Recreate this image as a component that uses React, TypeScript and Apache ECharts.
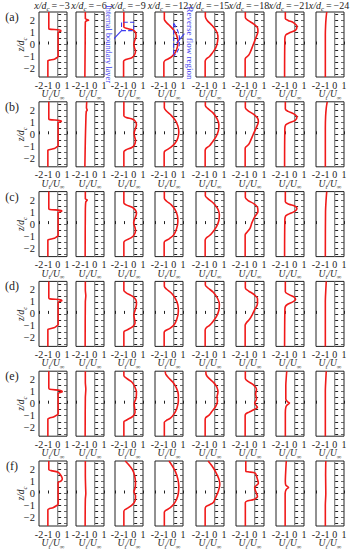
import React, { useEffect, useRef } from "react";
import * as echarts from "echarts";

// ---------- data ----------
const stations = [-3, -6, -9, -12, -15, -18, -21, -24];
const rowLabels = ["(a)", "(b)", "(c)", "(d)", "(e)", "(f)"];
const xLabelValues = [-2, -1, 0, 1];
const zLabelValues = [-2, -1, 0, 1, 2];
const zTickValues = [-2.5, -2, -1.5, -1, -0.5, 0, 0.5, 1, 1.5, 2, 2.5];

// profiles: [U_t/U_inf, z/d_c], from top to bottom
const a1 = [[-0.95,2.7],[-0.95,1.35],[-0.9,1.28],[0.2,1.2],[0.35,1.12],[0.15,1.05],[0.05,0.98],[0.05,-1.0],[-0.1,-1.1],[-0.35,-1.22],[-0.9,-1.3],[-1.05,-1.36],[-1.05,-2.7]];
const a2 = [[-1.0,2.7],[-1.0,2.15],[-0.85,2.08],[-0.65,2.02],[-0.9,1.95],[-1.0,1.85],[-1.02,0],[-1.05,-2.7]];
const a3 = [[-1.05,2.7],[-1.05,1.45],[-0.8,1.35],[-0.1,1.2],[0.2,1.0],[0.25,0.7],[0.1,0.3],[0.02,0.0],[0.1,-0.3],[0.2,-0.55],[0.1,-0.85],[-0.2,-1.1],[-0.85,-1.25],[-1.08,-1.4],[-1.08,-2.7]];
const a4 = [[-1.0,2.7],[-1.0,2.1],[-0.8,1.85],[-0.4,1.55],[0.0,1.2],[0.3,0.8],[0.45,0.3],[0.4,-0.2],[0.15,-0.7],[-0.2,-1.0],[-0.6,-1.2],[-0.95,-1.35],[-1.05,-1.5],[-1.05,-2.7]];
const a5 = [[-1,2.7],[-1,2.3],[-0.8,2.0],[-0.3,1.6],[0.15,1.15],[0.35,0.7],[0.3,0.2],[0.1,-0.3],[-0.25,-0.7],[-0.55,-1.0],[-0.9,-1.2],[-1.02,-1.4],[-1.02,-2.7]];
const a6 = [[-1,2.7],[-1,2.25],[-0.7,2.0],[-0.1,1.7],[0.3,1.4],[0.35,1.1],[0.1,0.5],[-0.2,-0.1],[-0.45,-0.6],[-0.65,-0.9],[-0.95,-1.1],[-1.02,-1.25],[-1.02,-2.7]];
const a7 = [[-1,2.7],[-1,2.15],[-0.7,2.0],[-0.1,1.8],[0.25,1.5],[0.1,1.2],[-0.6,0.95],[-0.95,0.8],[-1.05,0.5],[-1.08,-2.7]];
const a8 = [[-0.85,2.7],[-0.92,2.2],[-0.97,1.6],[-1.0,0.8],[-1.0,-2.7]];

const b1 = [[-0.95,2.7],[-0.95,1.3],[-0.85,1.22],[0.2,1.15],[0.4,1.08],[0.15,1.0],[0.05,0.95],[0.05,-0.95],[-0.1,-1.05],[-0.35,-1.18],[-0.9,-1.28],[-1.05,-1.33],[-1.05,-2.7]];
const b2 = [[-0.85,2.7],[-0.88,2.2],[-0.8,2.0],[-0.9,1.9],[-0.95,1.0],[-1.0,-0.5],[-1.05,-2.7]];
const b3 = [[-1.05,2.7],[-1.05,1.55],[-0.8,1.4],[-0.1,1.25],[0.2,1.05],[0.3,0.8],[0.15,0.4],[0.05,0.1],[0.1,-0.2],[0.2,-0.5],[0.1,-0.85],[-0.2,-1.1],[-0.85,-1.3],[-1.05,-1.45],[-1.05,-2.7]];
const b4 = [[-1,2.7],[-1,2.2],[-0.8,1.95],[-0.3,1.6],[0.15,1.2],[0.45,0.7],[0.55,0.2],[0.45,-0.3],[0.15,-0.75],[-0.25,-1.05],[-0.65,-1.25],[-0.95,-1.4],[-1.02,-1.55],[-1.02,-2.7]];
const b5 = [[-1,2.7],[-1,2.4],[-0.75,2.15],[-0.2,1.8],[0.25,1.3],[0.45,0.8],[0.4,0.3],[0.15,-0.2],[-0.25,-0.65],[-0.55,-0.95],[-0.9,-1.15],[-1.02,-1.35],[-1.02,-2.7]];
const b6 = [[-1,2.7],[-1,2.2],[-0.7,1.95],[-0.1,1.65],[0.3,1.35],[0.4,1.05],[0.2,0.6],[-0.15,0.0],[-0.45,-0.55],[-0.65,-0.85],[-0.95,-1.05],[-1.02,-1.2],[-1.02,-2.7]];
const b7 = [[-1,2.7],[-1,2.1],[-0.7,1.9],[-0.1,1.7],[0.25,1.45],[0.05,1.15],[-0.6,0.95],[-0.95,0.8],[-1.05,0.5],[-1.08,-2.7]];
const b8 = [[-0.8,2.7],[-0.9,2.2],[-0.97,1.5],[-1.0,0.5],[-1.0,-2.7]];

const c1 = [[-0.95,2.7],[-0.95,1.3],[-0.85,1.22],[0.25,1.15],[0.45,1.08],[0.15,1.0],[0.05,0.95],[0.05,-0.95],[-0.1,-1.05],[-0.35,-1.18],[-0.9,-1.28],[-1.05,-1.33],[-1.05,-2.7]];
const c2 = [[-1.0,2.7],[-1.0,2.1],[-0.8,2.0],[-0.95,1.85],[-1.0,1.0],[-1.02,-2.7]];
const c3 = [[-1.05,2.7],[-1.05,1.75],[-0.8,1.6],[-0.15,1.4],[0.2,1.15],[0.3,0.85],[0.1,0.4],[0.0,0.1],[0.15,-0.3],[0.2,-0.55],[0.05,-0.9],[-0.3,-1.15],[-0.85,-1.35],[-1.05,-1.5],[-1.05,-2.7]];
const c4 = [[-1,2.7],[-1,2.15],[-0.75,1.9],[-0.25,1.6],[0.15,1.2],[0.4,0.7],[0.45,0.2],[0.3,-0.4],[0.0,-0.9],[-0.45,-1.2],[-0.9,-1.4],[-1.02,-1.55],[-1.02,-2.7]];
const c5 = [[-1,2.7],[-1,2.35],[-0.7,2.1],[-0.15,1.75],[0.3,1.3],[0.5,0.8],[0.45,0.3],[0.2,-0.2],[-0.2,-0.65],[-0.55,-0.95],[-0.9,-1.15],[-1.02,-1.35],[-1.02,-2.7]];
const c6 = [[-1,2.7],[-1,2.2],[-0.7,1.95],[-0.1,1.7],[0.3,1.4],[0.35,1.05],[0.0,0.6],[-0.3,0.1],[-0.5,-0.35],[-0.85,-0.7],[-1.02,-0.9],[-1.02,-2.7]];
const c7 = [[-1,2.7],[-1,1.85],[-0.6,1.65],[0.0,1.5],[0.25,1.3],[0.0,1.05],[-0.6,0.85],[-0.95,0.7],[-1.05,0.4],[-1.08,-2.7]];
const c8 = [[-0.85,2.7],[-0.92,2.0],[-0.98,1.0],[-1.0,-2.7]];

const d1 = [[-0.95,2.7],[-0.95,1.35],[-0.85,1.25],[0.3,1.18],[0.45,1.1],[0.15,1.02],[0.05,0.95],[0.05,-0.9],[-0.1,-1.0],[-0.4,-1.15],[-0.9,-1.25],[-1.05,-1.3],[-1.05,-2.7]];
const d2 = [[-1.0,2.7],[-1.0,2.0],[-0.95,1.5],[-1.0,1.0],[-1.02,-2.7]];
const d3 = [[-1.05,2.7],[-1.05,1.95],[-0.8,1.75],[-0.1,1.45],[0.25,1.15],[0.3,0.8],[0.15,0.3],[0.02,-0.1],[0.1,-0.45],[0.15,-0.75],[-0.1,-1.05],[-0.75,-1.35],[-1.05,-1.5],[-1.05,-2.7]];
const d4 = [[-1,2.7],[-1,2.3],[-0.75,2.05],[-0.2,1.7],[0.2,1.25],[0.45,0.75],[0.5,0.2],[0.35,-0.4],[0.05,-0.9],[-0.4,-1.2],[-0.9,-1.4],[-1.02,-1.55],[-1.02,-2.7]];
const d5 = [[-1,2.7],[-1,2.4],[-0.7,2.15],[-0.15,1.8],[0.3,1.3],[0.5,0.8],[0.45,0.3],[0.2,-0.2],[-0.2,-0.65],[-0.55,-0.95],[-0.9,-1.15],[-1.02,-1.35],[-1.02,-2.7]];
const d6 = [[-1,2.7],[-1,2.15],[-0.65,1.9],[-0.05,1.6],[0.3,1.25],[0.3,0.85],[0.0,0.35],[-0.25,-0.05],[-0.55,-0.45],[-0.9,-0.75],[-1.02,-0.95],[-1.02,-2.7]];
const d7 = [[-1,2.7],[-1,1.85],[-0.6,1.6],[-0.05,1.4],[0.1,1.2],[-0.2,1.0],[-0.75,0.8],[-1.0,0.6],[-1.05,0.3],[-1.08,-2.7]];
const d8 = [[-0.9,2.7],[-0.95,2.0],[-1.0,1.0],[-1.0,-2.7]];

const e1 = [[-0.95,2.7],[-0.95,1.3],[-0.85,1.2],[0.3,1.1],[0.5,1.0],[0.25,0.92],[0.05,0.85],[0.05,-0.85],[-0.1,-0.95],[-0.45,-1.1],[-0.9,-1.2],[-1.05,-1.28],[-1.05,-2.7]];
const e2 = [[-1.0,2.7],[-1.0,1.8],[-0.95,1.2],[-1.0,0.5],[-1.02,-2.7]];
const e3 = [[-1.05,2.7],[-1.05,2.35],[-0.75,2.1],[-0.2,1.8],[0.1,1.45],[0.3,0.95],[0.25,0.45],[0.05,0.0],[0.1,-0.35],[0.15,-0.7],[-0.1,-1.05],[-0.75,-1.35],[-1.05,-1.5],[-1.05,-2.7]];
const e4 = [[-0.9,2.7],[-0.85,2.45],[-0.55,2.15],[-0.1,1.8],[0.3,1.3],[0.5,0.75],[0.5,0.2],[0.35,-0.35],[0.05,-0.85],[-0.35,-1.2],[-0.8,-1.4],[-1.0,-1.55],[-1.0,-2.7]];
const e5 = [[-0.95,2.7],[-0.9,2.4],[-0.6,2.1],[-0.1,1.75],[0.25,1.35],[0.35,0.95],[0.25,0.55],[0.3,0.2],[0.1,-0.25],[-0.3,-0.65],[-0.6,-0.95],[-0.95,-1.15],[-1.02,-1.35],[-1.02,-2.7]];
const e6 = [[-1,2.7],[-1,2.1],[-0.7,1.85],[-0.1,1.55],[0.2,1.2],[0.1,0.8],[0.2,0.4],[0.0,0.05],[0.3,-0.3],[-0.1,-0.5],[-0.6,-0.7],[-0.95,-0.85],[-1.02,-1.0],[-1.02,-2.7]];
const e7 = [[-0.85,2.7],[-0.9,2.2],[-0.95,1.5],[-0.95,0.4],[-0.75,0.15],[-0.55,0.05],[-0.8,-0.1],[-0.95,-0.3],[-1.0,-0.8],[-1.0,-2.7]];
const e8 = [[-0.9,2.7],[-0.95,2.0],[-1.0,1.0],[-1.0,-2.7]];

const f1 = [[-0.95,2.7],[-0.95,2.0],[-0.7,1.9],[0.0,1.78],[0.35,1.5],[0.5,1.2],[0.3,1.0],[0.05,0.92],[0.05,-0.9],[-0.1,-1.0],[-0.5,-1.18],[-0.95,-1.28],[-1.05,-1.35],[-1.05,-2.7]];
const f2 = [[-1.0,2.7],[-1.0,1.5],[-0.97,0.5],[-0.95,0.0],[-1.0,-0.5],[-1.02,-2.7]];
const f3 = [[-0.9,2.7],[-0.55,2.4],[-0.15,2.0],[0.1,1.5],[0.2,0.85],[0.15,0.45],[0.03,0.15],[0.2,-0.2],[0.15,-0.6],[-0.1,-0.9],[-0.6,-1.2],[-0.95,-1.35],[-1.05,-1.5],[-1.05,-2.7]];
const f4 = [[-0.5,2.7],[-0.15,2.3],[0.2,1.8],[0.45,1.2],[0.55,0.6],[0.5,0.0],[0.3,-0.5],[0.0,-0.9],[-0.4,-1.2],[-0.85,-1.4],[-1.0,-1.55],[-1.0,-2.7]];
const f5 = [[-0.7,2.7],[-0.3,2.3],[0.1,1.8],[0.45,1.2],[0.55,0.75],[0.4,0.2],[0.1,-0.35],[-0.15,-0.75],[-0.6,-0.95],[-0.95,-1.1],[-1.02,-1.3],[-1.02,-2.7]];
const f6 = [[-0.95,2.7],[-0.95,1.85],[-0.7,1.8],[0.05,1.7],[0.25,1.3],[0.4,0.85],[0.0,0.5],[0.1,0.2],[0.3,-0.25],[-0.1,-0.5],[-0.7,-0.6],[-1.0,-0.75],[-1.0,-2.7]];
const f7 = [[-0.9,2.7],[-0.95,2.0],[-1.0,1.0],[-0.95,0.7],[-0.65,0.5],[-0.9,0.35],[-1.02,0.0],[-1.02,-2.7]];
const f8 = [[-0.95,2.7],[-0.97,1.5],[-0.95,0.0],[-1.0,-1.0],[-1.0,-2.7]];

const profiles = [
  [a1, a2, a3, a4, a5, a6, a7, a8],
  [b1, b2, b3, b4, b5, b6, b7, b8],
  [c1, c2, c3, c4, c5, c6, c7, c8],
  [d1, d2, d3, d4, d5, d6, d7, d8],
  [e1, e2, e3, e4, e5, e6, e7, e8],
  [f1, f2, f3, f4, f5, f6, f7, f8],
];

const zeroLine = [[0, -2.7], [0, 2.7]];

// annotations (data coords of row a panels)
const iblBox = [[-1.3, 1.15], [0, 1.15], [0, 1.85], [-1.3, 1.85], [-1.3, 1.15]];
const iblPointer = [[-2.4, 0.25], [-1.3, 1.15]];
const rfrEdge = [[0, 1.75], [0, -0.95]];
const rfrOuter = [[0, 1.75], [0.4, 1.2], [0.62, 0.5], [0.58, -0.2], [0.3, -0.7], [0, -0.95]];
const rfrPointer = [[1.15, 0.9], [0.3, 0.1]];

// ---------- layout ----------
const SERIF = "'Liberation Serif', 'DejaVu Serif', serif";
const COL_LEFT = [39, 76, 115, 155, 196, 236, 276, 316];
const PANEL_W = 28;
const ROW_TOP0 = 12;
const ROW_PITCH = 89.8;
const PANEL_H = 65;
const RED = "#f01a1a";
const BLUE = "#3c3cf0";
const INK = "#222";
const THIN = "\u2009";

const fmt = (v: number) => (v < 0 ? "\u2212" + Math.abs(v) : String(v));
const fmtX = (v: number) => (v < 0 ? "-" + Math.abs(v) : String(v));

let measureCtx: CanvasRenderingContext2D | null = null;
function measure(text: string, size: number, italic: boolean) {
  if (!measureCtx) measureCtx = document.createElement("canvas").getContext("2d");
  if (!measureCtx) return text.length * size * 0.5;
  measureCtx.font = (italic ? "italic " : "") + size + "px " + SERIF;
  return measureCtx.measureText(text).width;
}

type Part = { t: string; sub?: boolean; italic?: boolean };
function richGroup(parts: Part[], size: number, x: number, y: number, rotation = 0) {
  const subSize = size * 0.68;
  const widths = parts.map((p) => measure(p.t, p.sub ? subSize : size, !!p.italic));
  const total = widths.reduce((s, w) => s + w, 0);
  let cx = -total / 2;
  const children = parts.map((p, i) => {
    const el = {
      type: "text",
      x: cx,
      y: p.sub ? size * 0.32 : 0,
      style: {
        text: p.t, fontFamily: SERIF, fontSize: p.sub ? subSize : size,
        fontStyle: p.italic ? "italic" : "normal", fill: INK,
        align: "left", verticalAlign: "middle",
      },
    };
    cx += widths[i];
    return el;
  });
  return { type: "group", x, y, rotation, children };
}

function buildOption() {
  const grid: any[] = [];
  const xAxis: any[] = [];
  const yAxis: any[] = [];
  const series: any[] = [];
  const graphic: any[] = [];

  const uName: Part[] = [{ t: "U", italic: true }, { t: "t", italic: true, sub: true }, { t: "/U", italic: true }, { t: "\u221e", sub: true }];
  const zName: Part[] = [{ t: "z/d", italic: true }, { t: "c", italic: true, sub: true }];

  for (let r = 0; r < 6; r++) {
    const top = ROW_TOP0 + r * ROW_PITCH;
    for (let c = 0; c < 8; c++) {
      const idx = r * 8 + c;
      grid.push({
        left: COL_LEFT[c], top, width: PANEL_W, height: PANEL_H,
        show: true, borderColor: INK, borderWidth: 1, backgroundColor: "transparent",
      });
      xAxis.push({
        gridIndex: idx, type: "value", min: -2, max: 1, interval: 1,
        axisLine: { show: false }, splitLine: { show: false },
        axisTick: { inside: true, length: 3, lineStyle: { color: INK } },
        axisLabel: {
          customValues: xLabelValues,
          fontFamily: SERIF, fontSize: 10, color: INK, margin: 3, formatter: fmtX,
          showMinLabel: true, showMaxLabel: true, hideOverlap: false,
        },
      });
      yAxis.push({
        gridIndex: idx, type: "value", min: -2.7, max: 2.7, position: "left",
        axisLine: { show: false }, splitLine: { show: false },
        axisTick: { inside: true, length: 3.5, customValues: zTickValues, lineStyle: { color: INK } },
        axisLabel: { show: c === 0, customValues: zLabelValues, fontFamily: SERIF, fontSize: 10.5, color: INK, margin: 4, formatter: fmt },
      });
      yAxis.push({
        gridIndex: idx, type: "value", min: -2.7, max: 2.7, position: "right",
        axisLine: { show: false }, splitLine: { show: false },
        axisTick: { inside: true, length: 3, customValues: zTickValues, lineStyle: { color: "#444", width: 0.8 } },
        axisLabel: { show: false },
      });
      series.push({
        type: "line", xAxisIndex: idx, yAxisIndex: 2 * idx, data: zeroLine,
        showSymbol: false, silent: true, z: 1,
        lineStyle: { color: "#8a8a8a", width: 1.3 },
      });
      series.push({
        type: "line", xAxisIndex: idx, yAxisIndex: 2 * idx, data: profiles[r][c],
        showSymbol: false, smooth: 0.3, z: 3,
        lineStyle: { color: RED, width: 1.6 },
      });
      graphic.push(richGroup(uName, 9.5, COL_LEFT[c] + PANEL_W / 2, top + PANEL_H + 17));
    }
    graphic.push({
      type: "text", x: 12, y: top + 5,
      style: { text: rowLabels[r], fontFamily: SERIF, fontSize: 12, fill: INK, align: "center", verticalAlign: "middle" },
    });
    graphic.push(richGroup(zName, 9.5, 21, top + PANEL_H / 2, Math.PI / 2));
  }

  stations.forEach((s, c) => {
    graphic.push(
      richGroup(
        [{ t: "x/d", italic: true }, { t: "c", italic: true, sub: true }, { t: THIN + "=" + THIN + fmt(s) }],
        10, COL_LEFT[c] + PANEL_W / 2 - 1, 5
      )
    );
  });

  // annotations
  const annot = (idx: number, data: number[][], type: string) => ({
    type: "line", xAxisIndex: idx, yAxisIndex: 2 * idx, data,
    showSymbol: false, silent: true, clip: false, z: 4,
    lineStyle: { color: BLUE, width: 1.1, type },
  });
  series.push(annot(2, iblBox, "dashed"));
  series.push(annot(2, iblPointer, "solid"));
  series.push(annot(3, rfrEdge, "dashed"));
  series.push({ ...annot(3, rfrOuter, "dashed"), smooth: 0.4 });
  series.push(annot(3, rfrPointer, "solid"));

  graphic.push({
    type: "text", x: 108, y: 44, rotation: -Math.PI / 2, z: 10,
    style: { text: "Internal boundary layer", fontFamily: SERIF, fontSize: 8.3, fill: BLUE, align: "center", verticalAlign: "middle" },
  });
  graphic.push({
    type: "text", x: 190, y: 43, rotation: -Math.PI / 2, z: 10,
    style: { text: "Reverse flow region", fontFamily: SERIF, fontSize: 9, fill: BLUE, align: "center", verticalAlign: "middle" },
  });

  return {
    animation: false,
    backgroundColor: "#fff",
    grid, xAxis, yAxis, series, graphic,
  };
}

export default function App() {
  const ref = useRef<HTMLDivElement>(null);
  useEffect(() => {
    if (!ref.current) return;
    const chart = echarts.init(ref.current, undefined, { renderer: "svg" });
    chart.setOption(buildOption() as any);
    return () => chart.dispose();
  }, []);
  return <div ref={ref} style={{ position: "fixed", left: 0, top: 0, width: 353, height: 550 }} />;
}
